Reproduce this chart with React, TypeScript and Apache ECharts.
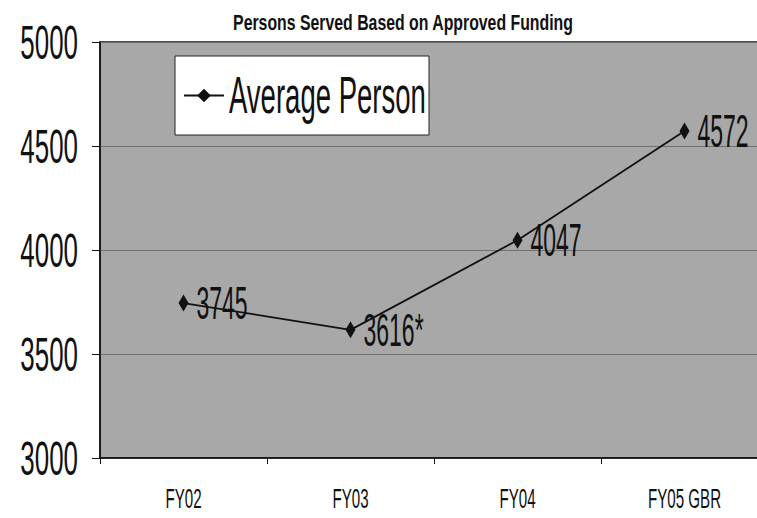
import React, { useEffect, useRef } from "react";
import * as echarts from "echarts";

const categories = ["FY02", "FY03", "FY04", "FY05 GBR"];
const averagePerson = [3745, 3616, 4047, 4572];
const pointLabels = ["3745", "3616*", "4047", "4572"];
const yTicks = { min: 3000, max: 5000, interval: 500 };
const titleText = "Persons Served Based on Approved Funding";
const seriesName = "Average Person";

const FONT = "'Liberation Sans', Arial, sans-serif";

// horizontal condensing of the (narrow) scanned typeface
const K_TITLE = 0.72;
const K_POINT = 0.5;
const K_OTHER = 0.54;

function condenseTexts(root: HTMLElement) {
  const texts = root.querySelectorAll("svg text");
  texts.forEach((node) => {
    const el = node as SVGTextElement;
    const cur = el.getAttribute("transform") || "";
    if (el.getAttribute("data-sc") === cur && cur !== "") return;
    const content = el.textContent || "";
    let k = K_OTHER;
    if (content === titleText) k = K_TITLE;
    else if (pointLabels.indexOf(content) >= 0) k = K_POINT;
    const x = parseFloat(el.getAttribute("x") || "0") || 0;
    const next = `${cur} translate(${x} 0) scale(${k} 1) translate(${-x} 0)`.trim();
    el.setAttribute("transform", next);
    el.setAttribute("data-sc", next);
  });
}

export default function App() {
  const ref = useRef<HTMLDivElement>(null);
  useEffect(() => {
    const dom = ref.current;
    if (!dom) return;
    const chart = echarts.init(dom, undefined, { renderer: "svg" });
    const apply = () => condenseTexts(dom);
    chart.on("finished", apply);
    chart.setOption({
      animation: false,
      backgroundColor: "#ffffff",
      graphic: [
        {
          type: "text",
          x: 403,
          y: 23,
          z: 10,
          style: {
            text: titleText,
            fontFamily: FONT,
            fontSize: 22,
            fontWeight: "bold",
            fill: "#111",
            textAlign: "center",
            textVerticalAlign: "middle",
          },
        },
        {
          type: "rect",
          z: 3,
          shape: { x: 175, y: 56, width: 254, height: 79 },
          style: { fill: "#ffffff", stroke: "#222", lineWidth: 1 },
        },
      ],
      legend: {
        left: 183,
        top: 70,
        orient: "horizontal",
        padding: 0,
        itemWidth: 40,
        itemHeight: 17,
        z: 5,
        textStyle: { fontFamily: FONT, fontSize: 51, color: "#111" },
        data: [seriesName],
      },
      grid: {
        left: 100,
        top: 42,
        width: 668,
        height: 416,
        show: true,
        containLabel: false,
        outerBoundsMode: "none",
        backgroundColor: "#a8a8a8",
        borderColor: "#111",
        borderWidth: 1.5,
      },
      xAxis: {
        type: "category",
        data: categories,
        boundaryGap: true,
        axisLine: { lineStyle: { color: "#111", width: 1.5 } },
        axisTick: { show: true, interval: 0, length: 6, inside: false, lineStyle: { color: "#111" } },
        axisLabel: {
          interval: 0,
          hideOverlap: false,
          fontFamily: FONT,
          fontSize: 28,
          color: "#111",
          margin: 27,
        },
      },
      yAxis: {
        type: "value",
        min: yTicks.min,
        max: yTicks.max,
        interval: yTicks.interval,
        axisLine: { show: true, lineStyle: { color: "#111", width: 1.5 } },
        axisTick: { show: true, length: 8, lineStyle: { color: "#111" } },
        axisLabel: {
          fontFamily: FONT,
          fontSize: 48,
          color: "#111",
          margin: 22,
          formatter: (v: number) => String(v),
        },
        splitLine: { show: true, lineStyle: { color: "#707070", width: 1 } },
      },
      series: [
        {
          name: seriesName,
          type: "line",
          data: averagePerson,
          symbol: "diamond",
          symbolSize: [10, 17],
          itemStyle: { color: "#111" },
          lineStyle: { color: "#111", width: 1.8 },
          label: {
            show: true,
            position: "right",
            distance: 8,
            fontFamily: FONT,
            fontSize: 46,
            color: "#111",
            formatter: (p: any) => pointLabels[p.dataIndex],
          },
        },
      ],
    });
    apply();
    const raf = requestAnimationFrame(apply);
    const t = window.setTimeout(apply, 50);
    return () => {
      cancelAnimationFrame(raf);
      window.clearTimeout(t);
      chart.dispose();
    };
  }, []);
  return (
    <div
      ref={ref}
      style={{ position: "fixed", left: 0, top: 0, width: 757, height: 518, background: "#fff" }}
    />
  );
}
